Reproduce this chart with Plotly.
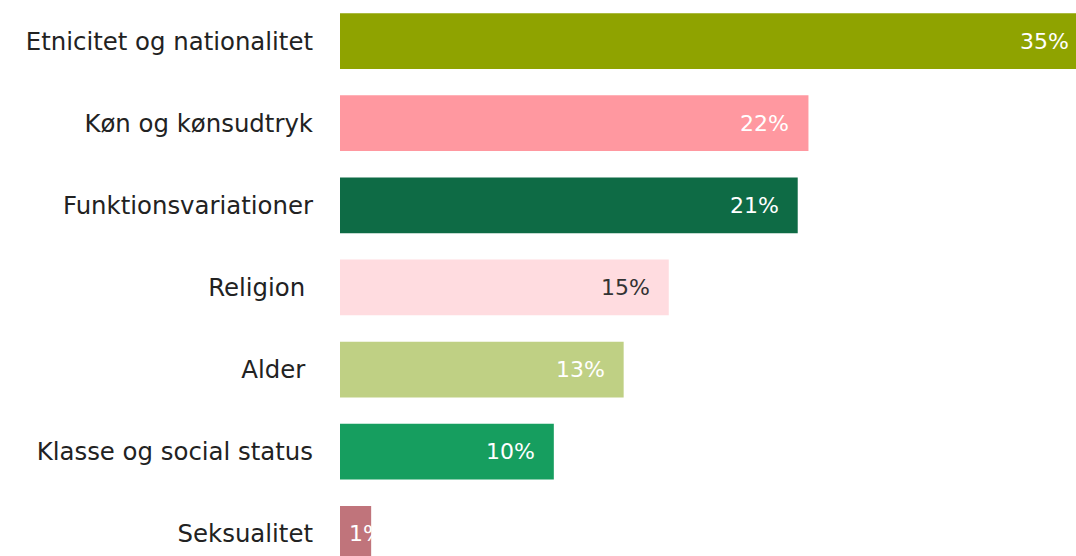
import plotly.graph_objects as go

categories = ["Etnicitet og nationalitet", "Køn og kønsudtryk", "Funktionsvariationer",
              "Religion\u00a0", "Alder\u00a0", "Klasse og social status", "Seksualitet"]
values = [34.8, 21.8, 21.3, 15.3, 13.2, 9.95, 1.45]
labels = ["35%", "22%", "21%", "15%", "13%", "10%", "1%"]
colors = ["#8fa300", "#ff98a0", "#0e6b45", "#ffdce0", "#bfd084", "#169e5f", "#c0747b"]
label_colors = ["#ffffff", "#ffffff", "#ffffff", "#333333", "#ffffff", "#ffffff", "#ffffff"]

FONT = "DejaVu Sans"
X_MAX = 34.25
PX_PER_UNIT = 736 / X_MAX

fig = go.Figure(go.Bar(
    x=values, y=categories, orientation="h",
    marker=dict(color=colors, line=dict(width=0)),
    width=0.68, hoverinfo="skip",
))

annotations = []
for cat, v, lab, lc in zip(categories, values, labels, label_colors):
    small = v < 3
    if small:
        ax, shift, anchor = 0, 7, "left"
    else:
        ax = min(v, X_MAX)
        shift = -17 + (v - ax) * PX_PER_UNIT
        anchor = "right"
    annotations.append(dict(
        x=ax, y=cat, xref="x", yref="y", text=lab, showarrow=False,
        xanchor=anchor, xshift=shift,
        font=dict(family=FONT, size=22, color=lc),
    ))

fig.update_layout(
    width=1076, height=556,
    margin=dict(l=340, r=0, t=0, b=0),
    paper_bgcolor="white", plot_bgcolor="white",
    showlegend=False,
    annotations=annotations,
    xaxis=dict(range=[0, X_MAX], visible=False, fixedrange=True),
    yaxis=dict(type="category", categoryorder="array", categoryarray=categories,
               range=[6.27, -0.5], showgrid=False, zeroline=False, showline=False,
               ticks="", ticklabelstandoff=26, fixedrange=True,
               tickfont=dict(family=FONT, size=24.4, color="#222222")),
)

fig.write_html("out.html", config={"displayModeBar": False},
               post_script="document.body.style.margin='0';")
